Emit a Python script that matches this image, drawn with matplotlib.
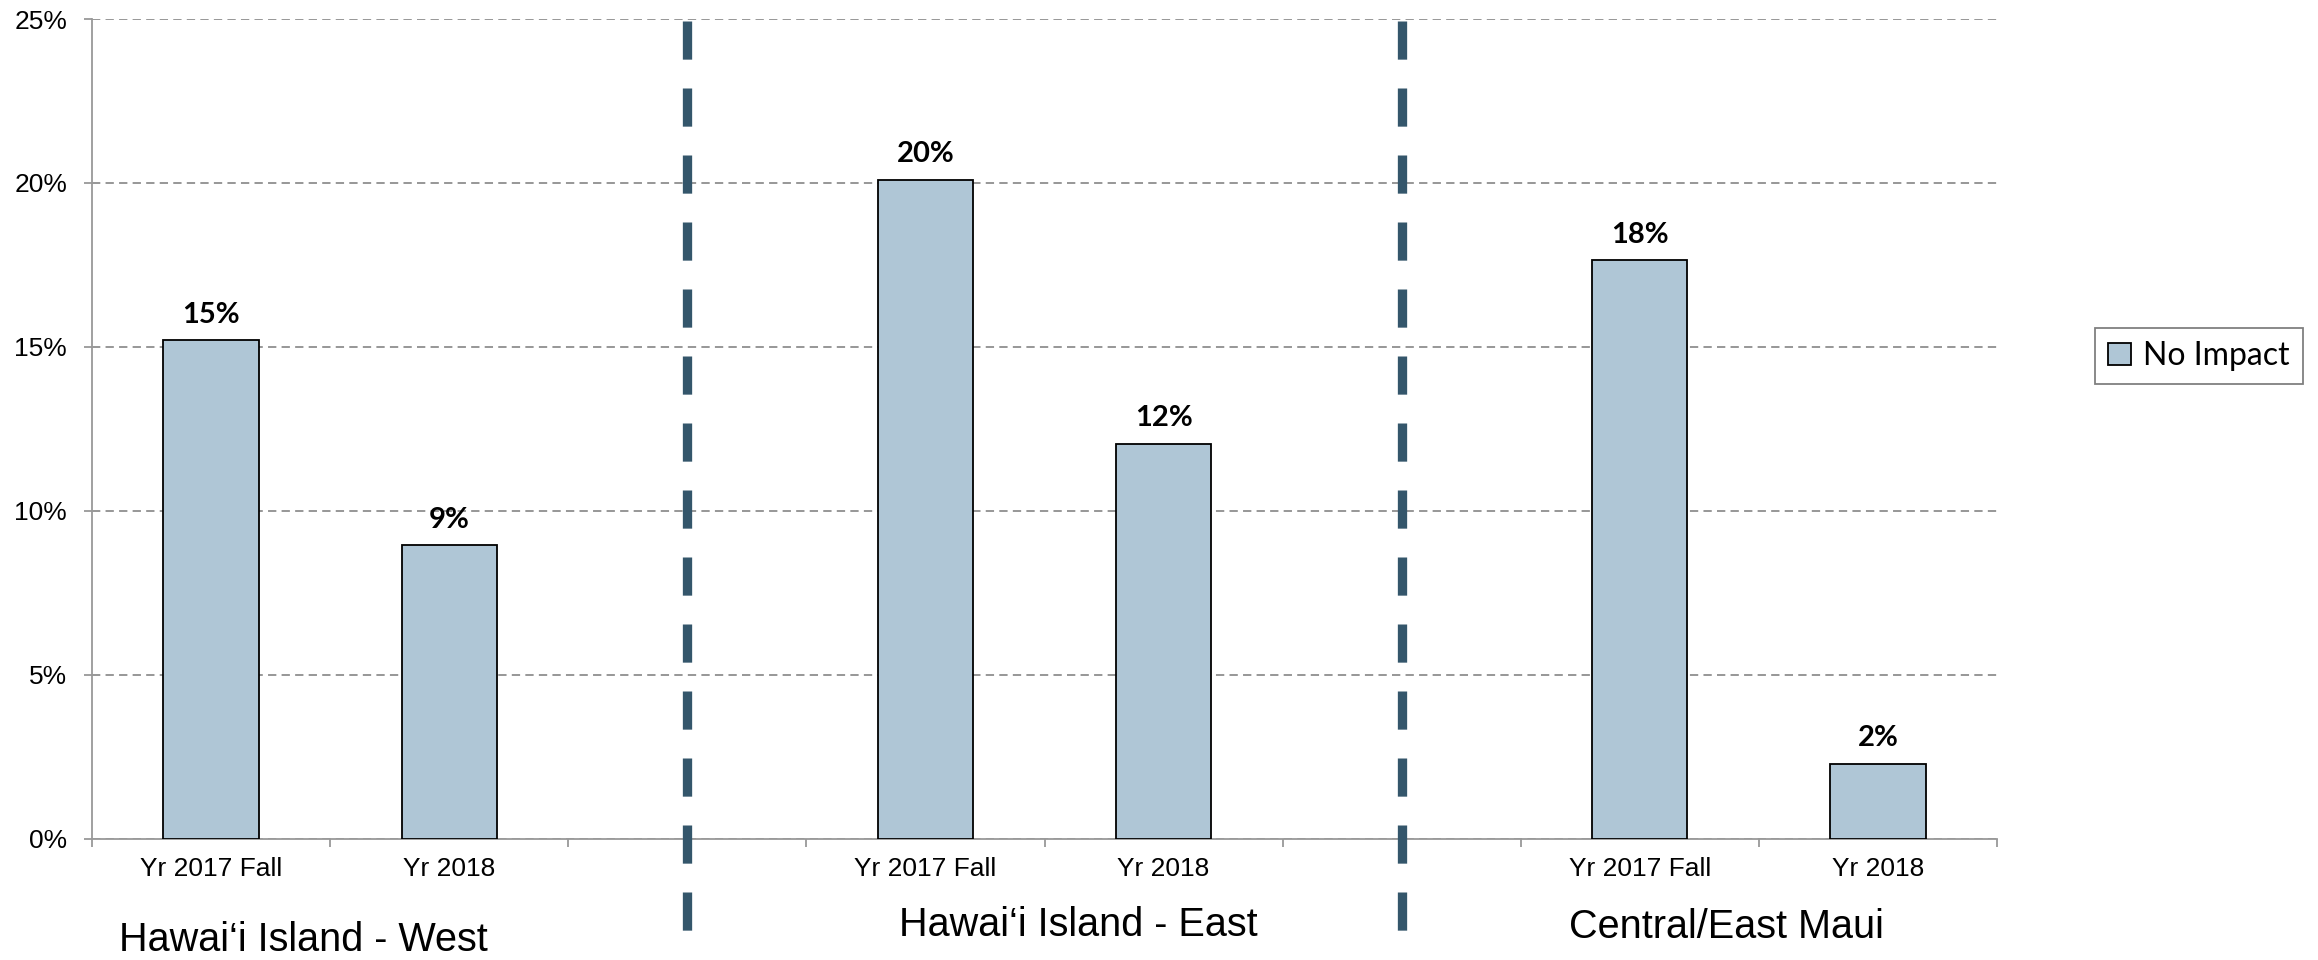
import matplotlib
matplotlib.use("Agg")
import matplotlib.pyplot as plt
import matplotlib.transforms as mtransforms
from matplotlib.patches import Patch

# Dados do gráfico
categorias = ["Yr 2017 Fall", "Yr 2018", "", "Yr 2017 Fall", "Yr 2018", "", "Yr 2017 Fall", "Yr 2018"]
no_impact = [15.2, 8.95, None, 20.1, 12.05, None, 17.65, 2.3]
rotulos = ["15%", "9%", None, "20%", "12%", None, "18%", "2%"]
separadores = [2, 5]
grupos = ["Hawai\u2018i Island - West", "Hawai\u2018i Island - East", "Central/East Maui"]
serie_nome = "No Impact"

# Cores e posições
cor_barra = "#AFC6D6"
cor_sep = "#34566B"
cor_cinza = "#999999"
pos_grupos = [(0.131, 0.021), (0.465, 0.036), (0.745, 0.034)]

fig = plt.figure(figsize=(23.18, 9.6), dpi=100)
ax = fig.add_axes([92 / 2318, 121 / 960, 1905 / 2318, 820 / 960])

xs = [i for i, v in enumerate(no_impact) if v is not None]
vals = [v for v in no_impact if v is not None]
ax.bar(xs, vals, width=0.40, color=cor_barra, edgecolor="black", linewidth=1.3, zorder=3)

# Rótulos de valor acima das barras
for x, v, r in zip(range(len(no_impact)), no_impact, rotulos):
    if v is None:
        continue
    ax.annotate(r, (x, v), xytext=(0, 9), textcoords="offset points",
                ha="center", va="bottom", fontsize=21, fontweight="bold",
                family="Lato", color="black")

# Linhas tracejadas verticais separando as regiões
trans = mtransforms.blended_transform_factory(ax.transData, ax.transAxes)
for s in separadores:
    ax.plot([s, s], [0.998, -0.12], transform=trans, color=cor_sep, lw=6.7,
            linestyle=(0, (4.1, 3.1)), solid_capstyle="butt", clip_on=False, zorder=4)

ax.set_xlim(-0.5, len(categorias) - 0.5)
ax.set_ylim(0, 25)
ax.set_yticks([0, 5, 10, 15, 20, 25])
ax.set_yticklabels([f"{t}%" for t in [0, 5, 10, 15, 20, 25]])
ax.set_xticks(range(len(categorias)))
ax.set_xticklabels(categorias)
ax.set_xticks([i - 0.5 for i in range(len(categorias) + 1)], minor=True)

ax.tick_params(axis="x", which="major", length=0, pad=13, labelsize=19)
ax.tick_params(axis="x", which="minor", length=6, width=1.3, color=cor_cinza, direction="out")
ax.tick_params(axis="y", length=6, width=1.3, color=cor_cinza, pad=12, labelsize=19)
for lbl in ax.get_xticklabels() + ax.get_yticklabels():
    lbl.set_family("Liberation Sans")

ax.yaxis.grid(True, color="#8F8F8F", linestyle=(0, (4.6, 2.9)), linewidth=1.3, zorder=0)
ax.set_axisbelow(True)
for lado in ["top", "right"]:
    ax.spines[lado].set_visible(False)
for lado in ["left", "bottom"]:
    ax.spines[lado].set_color(cor_cinza)
    ax.spines[lado].set_linewidth(1.3)

# Nomes das regiões abaixo do eixo
for nome, (gx, gy) in zip(grupos, pos_grupos):
    fig.text(gx, gy, nome, ha="center", va="center", fontsize=28.5,
             family="Liberation Sans", color="black")

# Legenda
leg = fig.legend(handles=[Patch(facecolor=cor_barra, edgecolor="black", linewidth=1.3, label=serie_nome)],
                 loc="center", bbox_to_anchor=(0.9487, 0.629),
                 prop={"family": "Lato", "size": 23},
                 handlelength=0.7, handleheight=0.7, handletextpad=0.4,
                 borderpad=0.4, fancybox=False, framealpha=1)
leg.get_frame().set_edgecolor("#808080")
leg.get_frame().set_linewidth(1.3)

fig.savefig("out.png", dpi=100)
